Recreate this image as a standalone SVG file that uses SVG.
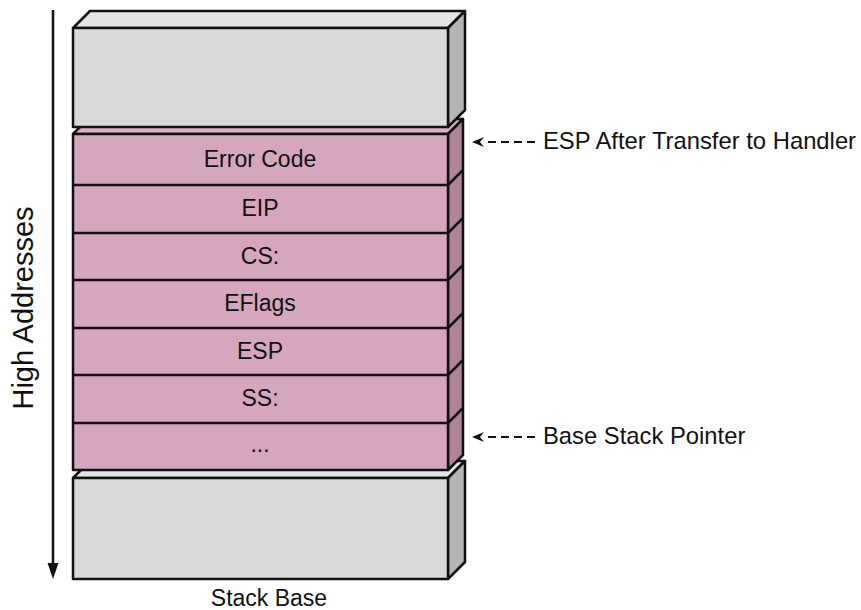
<svg xmlns="http://www.w3.org/2000/svg" width="861" height="610" viewBox="0 0 861 610">
<style>
.ln{stroke:#111;stroke-width:2.5;stroke-linejoin:round}
.gf{fill:#d9d9d9}.gt{fill:#e4e4e4}.gs{fill:#b5b5b5}
.pf{fill:#d5a6bd}.pt{fill:#dcb0c4}.ps{fill:#ae8496}
.t{font-family:"Liberation Sans",Arial,sans-serif;font-size:23px;fill:#111}
.c{text-anchor:middle}
.dash{stroke:#111;stroke-width:2;stroke-dasharray:8 5;fill:none}
</style>
<defs>
<marker id="ah" viewBox="0 0 12 10" refX="1" refY="5" markerWidth="12" markerHeight="10" markerUnits="userSpaceOnUse" orient="auto">
<path d="M12,5 L0,0 L4,5 L0,10 Z" fill="#111"/>
</marker>
</defs>
<g id="bottom-block">
<polygon class="gt ln" points="73,478 90,461 465,461 448,478"/>
<polygon class="gs ln" points="448,478 465,461 465,562 448,579"/>
<rect class="gf ln" x="73" y="478" width="375" height="101"/>
</g>
<g id="stack-frame">
<polygon class="pt ln" points="73,134 88,119 463,119 448,134"/>
<polygon class="ps ln" points="448,134 463,119 463,455 448,470"/>
<rect class="pf ln" x="73" y="134" width="375" height="336"/>
<g class="ln" fill="none">
<path d="M73,185H448L463,170"/>
<path d="M73,233H448L463,218"/>
<path d="M73,280H448L463,265"/>
<path d="M73,328H448L463,313"/>
<path d="M73,375H448L463,360"/>
<path d="M73,423H448L463,408"/>
</g>
<text class="t c" x="260" y="167">Error Code</text>
<text class="t c" x="260" y="216">EIP</text>
<text class="t c" x="260" y="264">CS:</text>
<text class="t c" x="260" y="311">EFlags</text>
<text class="t c" x="260" y="359">ESP</text>
<text class="t c" x="260" y="406">SS:</text>
<text class="t c" x="260" y="452">...</text>
</g>
<g id="top-block">
<polygon class="gt ln" points="73,28 90,11 465,11 448,28"/>
<polygon class="gs ln" points="448,28 465,11 465,110 448,127"/>
<rect class="gf ln" x="73" y="28" width="375" height="99"/>
</g>
<g id="connectors">
<line x1="53" y1="10" x2="53" y2="565" stroke="#111" stroke-width="2.5"/>
<polygon points="47.5,563 58.5,563 53,579" fill="#111"/>
<line class="dash" x1="535" y1="142" x2="483" y2="142" marker-end="url(#ah)"/>
<line class="dash" x1="535" y1="437" x2="483" y2="437" marker-end="url(#ah)"/>
</g>
<g id="labels">
<text class="t" x="543" y="149" style="font-size:23.8px">ESP After Transfer to Handler</text>
<text class="t" x="543" y="444" style="font-size:23.8px">Base Stack Pointer</text>
<text class="t c" x="269" y="606">Stack Base</text>
<text class="t c" transform="translate(33,308) rotate(-90)" style="font-size:29px">High Addresses</text>
</g>
</svg>
